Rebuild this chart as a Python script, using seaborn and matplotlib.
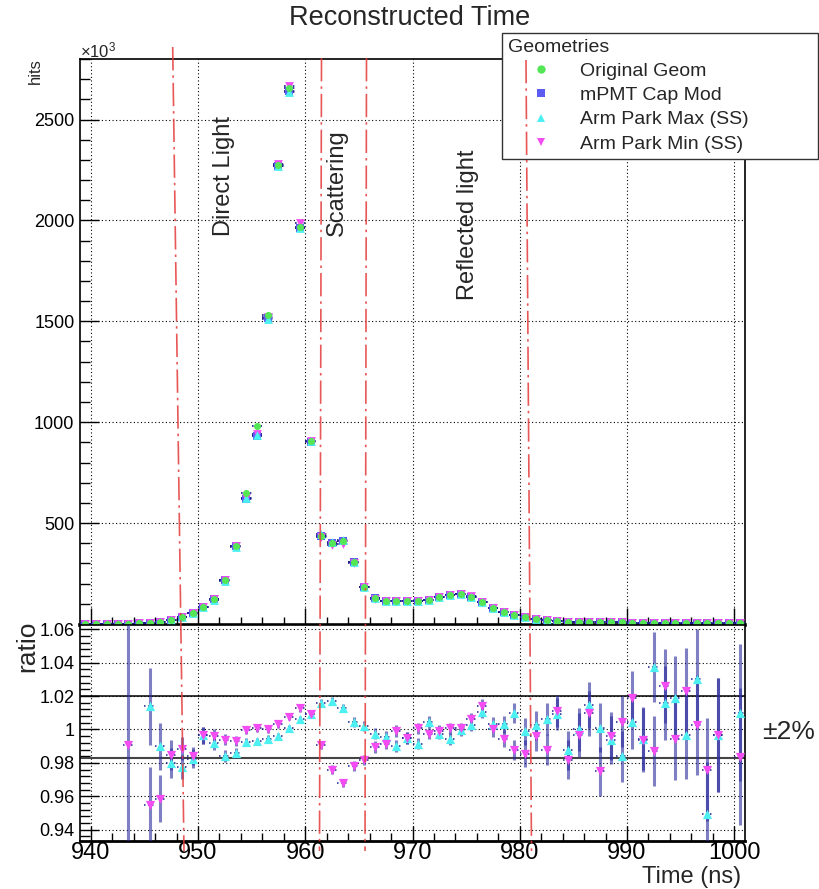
import numpy as np
import matplotlib
matplotlib.use("Agg")
import matplotlib.pyplot as plt
from matplotlib.lines import Line2D
from matplotlib.ticker import MultipleLocator
import seaborn as sns

# ---------------- data ----------------
time_ns = np.arange(939.5, 1001.0, 1.0)  # bin centres (1 ns bins, 939-1001 ns)

hits_original = [1, 1, 1, 2, 2, 3, 6, 11, 20, 33, 53, 83, 122, 218, 387, 649, 983, 1530,
                 2275, 2655, 1965, 905, 437, 400, 409, 306, 185, 127, 116, 116, 113, 114,
                 119, 132, 144, 147, 136, 109, 78, 60, 45, 33, 26, 20, 15, 12, 10, 9,
                 8, 8, 8, 7, 7, 7, 6, 6, 6, 6, 5, 5, 4, 3]
hits_mpmt_cap = [1, 1, 1, 2, 2, 3, 6, 11, 20, 33, 53, 83, 122, 217, 385, 619, 933, 1515,
                 2270, 2640, 1960, 900, 437, 400, 409, 306, 185, 127, 116, 116, 113, 114,
                 119, 132, 144, 147, 136, 109, 78, 60, 45, 33, 26, 20, 15, 12, 10, 9,
                 8, 8, 8, 7, 7, 7, 6, 6, 6, 6, 5, 5, 4, 3]
hits_arm_max = [1, 1, 1, 2, 2, 3, 6, 11, 20, 33, 53, 83, 121, 215, 383, 622, 935, 1512,
                2268, 2635, 1962, 908, 444, 407, 414, 307, 185, 127, 116, 115, 112, 113,
                119, 132, 143, 147, 136, 110, 78, 60, 45, 33, 26, 20, 15, 12, 10, 9,
                8, 8, 8, 7, 7, 7, 6, 6, 6, 6, 5, 5, 4, 3]
hits_arm_min = [1, 1, 1, 2, 2, 3, 6, 11, 20, 33, 53, 83, 122, 217, 385, 625, 940, 1520,
                2280, 2665, 1985, 908, 433, 390, 396, 300, 182, 126, 115, 116, 112, 114,
                119, 132, 144, 147, 137, 110, 78, 60, 44, 33, 26, 20, 15, 12, 10, 9,
                8, 8, 8, 7, 7, 7, 6, 6, 6, 6, 5, 5, 4, 3]

nan = np.nan
ratio_arm_max = [nan, nan, nan, nan, nan, nan, 1.014, 0.990, 0.980, 0.9776, 0.9826, 0.9966,
                 0.992, 0.984, 0.986, 0.9926, 0.993, 0.9946, 0.996, 1.0006, 1.006, 1.009,
                 1.016, 1.017, 1.013, 1.0046, 1.002, 0.9976, 0.9956, 0.990, 0.995, 0.9916,
                 1.0046, 0.9976, 0.9942, 0.9996, 1.0026, 1.0106, 1.003, 1.003, 1.0096, 0.999,
                 1.0026, 1.0062, 1.0092, 0.9876, 1.000, 1.0146, 1.001, 0.9936, 0.984, 1.0046,
                 0.9946, 1.0376, 1.016, 1.019, 0.9966, 1.030, 0.9496, 0.9966, nan, 1.010]
ratio_arm_min = [nan, nan, nan, nan, 0.9906, nan, 0.9545, 0.9586, 0.985, 0.9886, 0.984, 0.9966,
                 0.996, 0.994, 0.993, 0.9996, 1.0006, 1.000, 1.003, 1.0076, 1.0126, 1.009,
                 0.9906, 0.976, 0.968, 0.978, 0.9816, 0.9896, 0.9916, 0.999, 0.995, 1.0006,
                 0.9976, 0.9992, 1.0006, 1.0006, 1.0062, 1.014, 1.0002, 0.9946, 0.9876, 0.9856,
                 0.996, 0.988, 1.011, 0.982, 0.9966, 1.0096, 0.975, 0.996, 1.0046, 1.0186,
                 0.9936, 0.987, 1.026, 0.9946, 1.023, 1.0026, 0.976, 0.9966, nan, 0.9836]
ratio_err = [0, 0, 0, 0, 0.12, 0, 0.023, 0.014, 0.009, 0.007, 0.0055, 0.005,
             0.004, 0.0035, 0.003, 0.0025, 0.002, 0.002, 0.002, 0.002, 0.002, 0.002,
             0.0025, 0.0025, 0.0025, 0.003, 0.003, 0.0035, 0.0035, 0.0035, 0.0035, 0.0035,
             0.0035, 0.0035, 0.0035, 0.0035, 0.0035, 0.004, 0.0045, 0.005, 0.006, 0.008,
             0.0087, 0.0094, 0.0095, 0.0116, 0.013, 0.0137, 0.0146, 0.0142, 0.0152, 0.0165,
             0.019, 0.021, 0.022, 0.025, 0.026, 0.030, 0.031, 0.034, 0, 0.041]

series_labels = ["Original Geom", "mPMT Cap Mod", "Arm Park Max (SS)", "Arm Park Min (SS)"]
region_labels = ["Direct Light", "Scattering", "Reflected light"]

x_ticks = [940, 950, 960, 970, 980, 990, 1000]
x_tick_labels = ["940", "950", "960", "970", "980", "990", "1000"]
y_ticks = [0, 500, 1000, 1500, 2000, 2500]
y_tick_labels = ["", "500", "1000", "1500", "2000", "2500"]  # the "0" is hidden by the ratio pad
r_ticks = [0.94, 0.96, 0.98, 1.0, 1.02, 1.04, 1.06]
r_tick_labels = ["0.94", "0.96", "0.98", "1", "1.02", "1.04", "1.06"]

# ---------------- style ----------------
sns.set_theme(style="white")
plt.rcParams["font.family"] = ["Liberation Sans", "DejaVu Sans"]
plt.rcParams["mathtext.fontset"] = "custom"
plt.rcParams["mathtext.rm"] = "Liberation Sans"
plt.rcParams["mathtext.it"] = "Liberation Sans:italic"

C_GREEN = "#55e655"
C_BLUE = "#5c5cf2"
C_CYAN = "#4cf0f0"
C_MAG = "#f24cf2"
C_NAVY = "#1c1c8c"
C_RED = "#e43a3a"

W, H = 819, 889
fig = plt.figure(figsize=(W / 100, H / 100), dpi=100)


def fx(px):
    return px / W


def fy(py):
    return 1 - py / H


ax = fig.add_axes([fx(80), fy(625), fx(745) - fx(80), fy(59) - fy(625)])
axr = fig.add_axes([fx(80), fy(841), fx(745) - fx(80), fy(625) - fy(841)])

dotted = (0, (1, 1.6))

# ---------------- top panel ----------------
top_series = [
    (hits_mpmt_cap, "s", C_BLUE, 30),
    (hits_arm_min, "v", C_MAG, 40),
    (hits_arm_max, "^", C_CYAN, 40),
    (hits_original, "o", C_GREEN, 26),
]
for vals, mk, col, size in top_series:
    ax.hlines(vals, time_ns - 0.5, time_ns + 0.5, colors=C_NAVY, linestyles=dotted,
              linewidth=1.2, zorder=3)
for vals, mk, col, size in top_series:
    sns.scatterplot(x=time_ns, y=vals, ax=ax, marker=mk, color=col, s=size,
                    linewidth=0, zorder=4, legend=False)

ax.set_xlim(939, 1001)
ax.set_ylim(-5, 2800)
ax.set_xticks(x_ticks)
ax.set_xticklabels([])
ax.set_yticks(y_ticks)
ax.set_yticklabels(y_tick_labels, fontsize=13)
ax.xaxis.set_minor_locator(MultipleLocator(2))
ax.yaxis.set_minor_locator(MultipleLocator(100))
ax.tick_params(axis="both", which="both", direction="in", left=True, bottom=True,
               top=False, right=False, colors="black", width=1)
ax.tick_params(axis="y", which="major", length=14, pad=4)
ax.tick_params(axis="y", which="minor", length=7)
ax.tick_params(axis="x", which="major", length=12, labelbottom=False)
ax.tick_params(axis="x", which="minor", length=6)
ax.grid(True, which="major", color="black", linestyle=(0, (1, 2.2)), linewidth=0.8)
ax.set_axisbelow(True)
ax.set_xlabel("")
ax.set_ylabel("")
for sp in ax.spines.values():
    sp.set_color("black")
    sp.set_linewidth(1.2)
ax.spines["bottom"].set_linewidth(2.6)

# ---------------- ratio panel ----------------
t_arr = np.asarray(time_ns)
for vals, col in [(ratio_arm_max, C_CYAN), (ratio_arm_min, C_MAG)]:
    v = np.asarray(vals, dtype=float)
    e = np.asarray(ratio_err, dtype=float)
    ok = ~np.isnan(v)
    axr.vlines(t_arr[ok], v[ok] - e[ok], v[ok] + e[ok], colors="#2a2a9e", linewidth=2.2,
               alpha=0.6, zorder=3)
    axr.hlines(v[ok], t_arr[ok] - 0.5, t_arr[ok] + 0.5, colors=C_NAVY, linestyles=dotted,
               linewidth=1.1, zorder=3)
sns.scatterplot(x=time_ns, y=ratio_arm_max, ax=axr, marker="^", color=C_CYAN, s=44,
                linewidth=0, zorder=4, legend=False)
sns.scatterplot(x=time_ns, y=ratio_arm_min, ax=axr, marker="v", color=C_MAG, s=44,
                linewidth=0, zorder=4, legend=False)

axr.axhline(1.02, color="black", linewidth=1.1, zorder=2)
axr.axhline(0.9828, color="#444444", linewidth=1.5, zorder=2)

axr.set_xlim(939, 1001)
axr.set_ylim(0.9332, 1.0626)
axr.set_xticks(x_ticks)
axr.set_xticklabels(x_tick_labels, fontsize=17)
axr.set_yticks(r_ticks)
axr.set_yticklabels(r_tick_labels, fontsize=13)
axr.xaxis.set_minor_locator(MultipleLocator(2))
axr.yaxis.set_minor_locator(MultipleLocator(0.004))
axr.tick_params(axis="both", which="both", direction="in", left=True, bottom=True,
                top=False, right=False, colors="black", width=1)
axr.tick_params(axis="y", which="major", length=14, pad=4)
axr.tick_params(axis="y", which="minor", length=7)
axr.tick_params(axis="x", which="major", length=11, pad=1)
axr.tick_params(axis="x", which="minor", length=6)
axr.grid(True, which="major", color="black", linestyle=(0, (1, 2.2)), linewidth=0.8)
axr.set_axisbelow(True)
axr.set_xlabel("")
axr.set_ylabel("")
for sp in axr.spines.values():
    sp.set_color("black")
    sp.set_linewidth(1.2)
axr.spines["bottom"].set_linewidth(2.0)

# ---------------- texts ----------------
fig.text(fx(410), fy(18), "Reconstructed Time", ha="center", va="center", fontsize=19.5)
fig.text(fx(80), fy(57), "\u00d710$^{3}$", ha="left", va="baseline", fontsize=12)
fig.text(fx(35), fy(58), "hits", rotation=90, ha="center", va="top", fontsize=12)
fig.text(fx(27), fy(646), "ratio", rotation=90, ha="center", va="center", fontsize=19)
fig.text(fx(741), fy(877), "Time (ns)", ha="right", va="center", fontsize=17)
fig.text(fx(762), fy(732), "\u00b12%", ha="left", va="center", fontsize=19)

fig.text(fx(224), fy(176), region_labels[0], rotation=90, ha="center", va="center", fontsize=17)
fig.text(fx(337), fy(183), region_labels[1], rotation=90, ha="center", va="center", fontsize=17)
fig.text(fx(468), fy(225), region_labels[2], rotation=90, ha="center", va="center", fontsize=17)

# ---------------- legend ----------------
handles = [
    Line2D([], [], linestyle="none", marker="o", color=C_GREEN, markersize=6, markeredgewidth=0),
    Line2D([], [], linestyle="none", marker="s", color=C_BLUE, markersize=6, markeredgewidth=0),
    Line2D([], [], linestyle="none", marker="^", color=C_CYAN, markersize=6, markeredgewidth=0),
    Line2D([], [], linestyle="none", marker="v", color=C_MAG, markersize=6, markeredgewidth=0),
]
leg = fig.legend(handles, series_labels, title="Geometries", loc="upper left",
                 bbox_to_anchor=(fx(502), fy(158), fx(818) - fx(502), fy(33) - fy(158)),
                 mode="expand", fontsize=14, title_fontsize=14, frameon=True,
                 fancybox=False, framealpha=1, edgecolor="#333333", borderpad=0.3,
                 handlelength=3.4, handletextpad=0.3, labelspacing=0.34, borderaxespad=0,
                 alignment="left")
leg.get_frame().set_linewidth(1.0)
leg.set_zorder(5)

# ---------------- region boundary lines (drawn on the canvas) ----------------
boundaries = [((172.7, 47), (184.0, 851)), ((321.5, 58), (319.5, 851)),
              ((366.5, 58), (365.0, 851)), ((526.0, 60), (531.5, 851))]
for (x0, y0), (x1, y1) in boundaries:
    ln = Line2D([fx(x0), fx(x1)], [fy(y0), fy(y1)], transform=fig.transFigure,
                color=C_RED, linewidth=1.2, alpha=0.85, dashes=(14, 3, 1.5, 3), zorder=6)
    fig.add_artist(ln)

fig.savefig("out.png", dpi=100)
